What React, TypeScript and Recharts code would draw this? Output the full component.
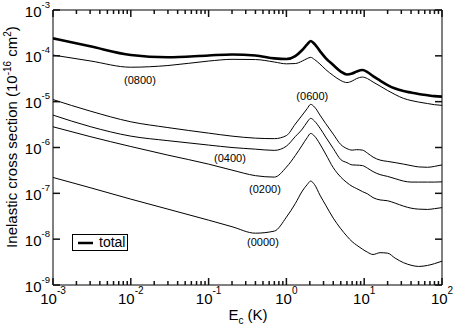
import { Legend, Line, LineChart, ReferenceDot, XAxis, YAxis } from "recharts";

// collision energy grid (K)
const energy = [
    0.001, 0.003, 0.01, 0.03, 0.1, 0.2, 0.4, 0.7, 1.0, 1.3, 1.6, 1.85, 2.05, 2.3, 2.7, 3.2, 4, 5, 6, 7, 8,
    9.5, 11, 13, 16, 20, 25, 32, 40, 50, 65, 80, 100,
];

// cross sections, 1e-16 cm^2
const total = [
    2.41e-4, 1.61e-4, 1.04e-4, 9.3e-5, 1.02e-4, 1.07e-4, 1.02e-4, 8.8e-5, 8.5e-5, 9.9e-5, 1.34e-4, 1.77e-4,
    2.1e-4, 1.81e-4, 1.27e-4, 8.95e-5, 6.3e-5, 4.54e-5, 3.91e-5, 4.11e-5, 4.54e-5, 4.9e-5, 4.43e-5, 3.62e-5,
    2.89e-5, 2.3e-5, 1.93e-5, 1.7e-5, 1.58e-5, 1.47e-5, 1.38e-5, 1.32e-5, 1.29e-5,
];
const s0800 = [
    1.04e-4, 7.75e-5, 5.64e-5, 6.14e-5, 7.69e-5, 8.39e-5, 8.3e-5, 7.33e-5, 6.69e-5, 6.79e-5, 7.69e-5, 8.73e-5,
    9.27e-5, 8.3e-5, 6.62e-5, 5.02e-5, 3.72e-5, 2.89e-5, 2.61e-5, 2.82e-5, 3.19e-5, 3.44e-5, 3.19e-5, 2.68e-5,
    2.19e-5, 1.75e-5, 1.43e-5, 1.18e-5, 1.06e-5, 9.8e-6, 9.1e-6, 8.6e-6, 8.3e-6,
];
const s0600 = [
    1.11e-5, 6.24e-6, 3.64e-6, 2.72e-6, 2.06e-6, 1.77e-6, 1.6e-6, 1.56e-6, 1.82e-6, 3.24e-6, 5.1e-6, 7.07e-6,
    8.73e-6, 7.63e-6, 5.1e-6, 3.33e-6, 1.96e-6, 1.16e-6, 9.46e-7, 8.77e-7, 8.97e-7, 8.77e-7, 7.55e-7, 6.17e-7,
    5.31e-7, 4.97e-7, 4.68e-7, 4.34e-7, 4.03e-7, 3.77e-7, 3.7e-7, 3.87e-7, 4.17e-7,
];
const s0400 = [
    5.09e-6, 2.86e-6, 1.77e-6, 1.41e-6, 1.13e-6, 1.0e-6, 9.2e-7, 8.65e-7, 1.07e-6, 1.73e-6, 2.52e-6, 3.59e-6,
    4.32e-6, 3.77e-6, 2.65e-6, 1.69e-6, 9.55e-7, 5.44e-7, 4.68e-7, 4.17e-7, 4.13e-7, 4.03e-7, 3.55e-7, 2.98e-7,
    2.56e-7, 2.34e-7, 2.09e-7, 1.85e-7, 1.76e-7, 1.76e-7, 1.76e-7, 1.76e-7, 1.78e-7,
];
const s0200 = [
    2.83e-6, 1.73e-6, 1.05e-6, 6.82e-7, 4.34e-7, 3.21e-7, 2.43e-7, 2.26e-7, 3.73e-7, 6.65e-7, 1.13e-6, 1.64e-6,
    2.03e-6, 1.77e-6, 1.19e-6, 7.18e-7, 3.64e-7, 2.26e-7, 1.71e-7, 1.42e-7, 1.27e-7, 1.09e-7, 9.75e-8, 8.05e-8,
    7.18e-8, 6.89e-8, 6.11e-8, 5.26e-8, 4.75e-8, 4.52e-8, 4.45e-8, 4.63e-8, 4.88e-8,
];
const s0000 = [
    2.22e-7, 1.33e-7, 7.47e-8, 4.52e-8, 2.6e-8, 1.87e-8, 1.35e-8, 1.5e-8, 3.02e-8, 5.96e-8, 1.12e-7, 1.55e-7,
    1.85e-7, 1.55e-7, 9.14e-8, 5.52e-8, 2.88e-8, 1.69e-8, 1.16e-8, 8.82e-9, 7.4e-9, 6.05e-9, 5.2e-9, 4.63e-9,
    5.07e-9, 4.95e-9, 3.85e-9, 3.07e-9, 2.7e-9, 2.54e-9, 2.67e-9, 2.92e-9, 3.31e-9,
];

// curve labels: text, energy, cross section where the label sits
const curveLabels = [
    { text: "(0800)", e: 0.0131, v: 2.96e-5 },
    { text: "(0600)", e: 2.15, v: 1.32e-5 },
    { text: "(0400)", e: 0.188, v: 6.0e-7 },
    { text: "(0200)", e: 0.53, v: 1.24e-7 },
    { text: "(0000)", e: 0.5, v: 8.8e-9 },
];

const xMajor = [1e-3, 1e-2, 1e-1, 1, 10, 100];
const yMajor = [1e-9, 1e-8, 1e-7, 1e-6, 1e-5, 1e-4, 1e-3];
const xMinor = xMajor.slice(0, -1).flatMap((d) => [2, 3, 4, 5, 6, 7, 8, 9].map((m) => m * d));
const xTicks = [...xMajor, ...xMinor].sort((a, b) => a - b);

const data = energy.map((e, i) => ({
    energy: e,
    total: total[i],
    s0800: s0800[i],
    s0600: s0600[i],
    s0400: s0400[i],
    s0200: s0200[i],
    s0000: s0000[i],
}));

const W = 453;
const H = 327;
// plot frame; axis sizes below are derived from it
const PLOT = { left: 53, top: 10, right: 442, bottom: 285 };

const FONT = "'Liberation Sans', Arial, Helvetica, sans-serif";
const expOf = (v: number) => Math.round(Math.log10(v));
const isDecade = (v: number) => Math.abs(Math.log10(v) - expOf(v)) < 1e-6;

const tickStroke = { stroke: "#111", strokeWidth: 1.5, fill: "none" };

// ticks point into the plot, like the original
const XTickBottom = ({ x, payload }: any) => {
    const major = isDecade(payload.value);
    const ay = PLOT.bottom;
    return (
        <g>
            <path d={`M${x},${ay}V${ay - (major ? 7 : 4)}`} {...tickStroke} />
            {major && (
                <text x={x} y={ay + 19} textAnchor="middle" fontFamily={FONT} fontSize={15} fill="#000">
                    <tspan>10</tspan>
                    <tspan dy={-10} fontSize={10}>
                        {expOf(payload.value)}
                    </tspan>
                </text>
            )}
        </g>
    );
};

const XTickTop = ({ x, payload }: any) => {
    const major = isDecade(payload.value);
    const ay = PLOT.top;
    return (
        <g>
            <path d={`M${x},${ay}V${ay + (major ? 7 : 4)}`} {...tickStroke} />
        </g>
    );
};

const YTickLeft = ({ y, payload }: any) => {
    const ax = PLOT.left;
    return (
        <g>
            <path d={`M${ax},${y}H${ax + 7}`} {...tickStroke} />
            <text x={ax - 3} y={y + 6.5} textAnchor="end" fontFamily={FONT} fontSize={15} fill="#000">
                <tspan>10</tspan>
                <tspan dy={-9} fontSize={9.5}>
                    {expOf(payload.value)}
                </tspan>
            </text>
        </g>
    );
};

const YTickRight = ({ y }: any) => {
    const ax = PLOT.right;
    return (
        <g>
            <path d={`M${ax},${y}H${ax - 7}`} {...tickStroke} />
        </g>
    );
};

const YTitle = () => (
    <text transform="translate(17, 137) rotate(-90)" textAnchor="middle" fontFamily={FONT} fontSize={15} fill="#000">
        <tspan>Inelastic cross section (10</tspan>
        <tspan dy={-6} fontSize={10}>-16</tspan>
        <tspan dy={6}> cm</tspan>
        <tspan dy={-6} fontSize={10}>2</tspan>
        <tspan dy={6}>)</tspan>
    </text>
);

const XTitle = () => (
    <text x={248} y={320} textAnchor="middle" fontFamily={FONT} fontSize={15} fill="#000">
        <tspan>E</tspan>
        <tspan dy={4} fontSize={10}>c</tspan>
        <tspan dy={-4}> (K)</tspan>
    </text>
);

const LegendBox = () => (
    <div
        style={{
            border: "1px solid #000",
            width: 54,
            height: 15,
            background: "#fff",
            display: "flex",
            alignItems: "center",
            fontFamily: FONT,
            fontSize: 14,
            lineHeight: "15px",
        }}
    >
        <svg width={26} height={15} style={{ display: "block" }}>
            <line x1={5} x2={20} y1={8} y2={8} stroke="#000" strokeWidth={2.5} />
        </svg>
        <span>total</span>
    </div>
);

const axisCommon = {
    type: "number" as const,
    scale: "log" as const,
    allowDataOverflow: true,
    interval: 0 as const,
    tickLine: false,
    axisLine: { stroke: "#000", strokeWidth: 1 },
};

export default function App() {
    return (
        <>
            <style>{"body{margin:0} .recharts-surface{overflow:visible}"}</style>
            <LineChart width={W} height={H} data={data} margin={{ top: 0, right: 0, bottom: 0, left: 0 }}>
                <XAxis
                    {...axisCommon}
                    dataKey="energy"
                    domain={[1e-3, 100]}
                    ticks={xTicks}
                    height={H - PLOT.bottom}
                    tick={<XTickBottom />}
                    label={<XTitle />}
                />
                <XAxis
                    {...axisCommon}
                    xAxisId="top"
                    orientation="top"
                    dataKey="energy"
                    domain={[1e-3, 100]}
                    ticks={xTicks}
                    height={PLOT.top}
                    tick={<XTickTop />}
                />
                <YAxis
                    {...axisCommon}
                    domain={[1e-9, 1e-3]}
                    ticks={yMajor}
                    width={PLOT.left}
                    tick={<YTickLeft />}
                    label={<YTitle />}
                />
                <YAxis
                    {...axisCommon}
                    yAxisId="right"
                    orientation="right"
                    domain={[1e-9, 1e-3]}
                    ticks={yMajor}
                    width={W - PLOT.right}
                    tick={<YTickRight />}
                />
                <Line dataKey="total" type="monotone" stroke="#000" strokeWidth={2.6} dot={false} isAnimationActive={false} />
                <Line dataKey="s0800" type="monotone" stroke="#000" strokeWidth={1} dot={false} isAnimationActive={false} />
                <Line dataKey="s0600" type="monotone" stroke="#000" strokeWidth={1} dot={false} isAnimationActive={false} />
                <Line dataKey="s0400" type="monotone" stroke="#000" strokeWidth={1} dot={false} isAnimationActive={false} />
                <Line dataKey="s0200" type="monotone" stroke="#000" strokeWidth={1} dot={false} isAnimationActive={false} />
                <Line dataKey="s0000" type="monotone" stroke="#000" strokeWidth={1} dot={false} isAnimationActive={false} />
                {curveLabels.map((c) => (
                    <ReferenceDot
                        key={c.text}
                        x={c.e}
                        y={c.v}
                        r={0}
                        fill="none"
                        stroke="none"
                        label={{ value: c.text, position: "center", fontSize: 11, fill: "#000", fontFamily: FONT }}
                    />
                ))}
                <Legend
                    layout="horizontal"
                    verticalAlign="middle"
                    align="center"
                    wrapperStyle={{ position: "absolute", left: 72, top: 234, width: "auto", height: "auto" }}
                    content={() => <LegendBox />}
                />
            </LineChart>
        </>
    );
}
